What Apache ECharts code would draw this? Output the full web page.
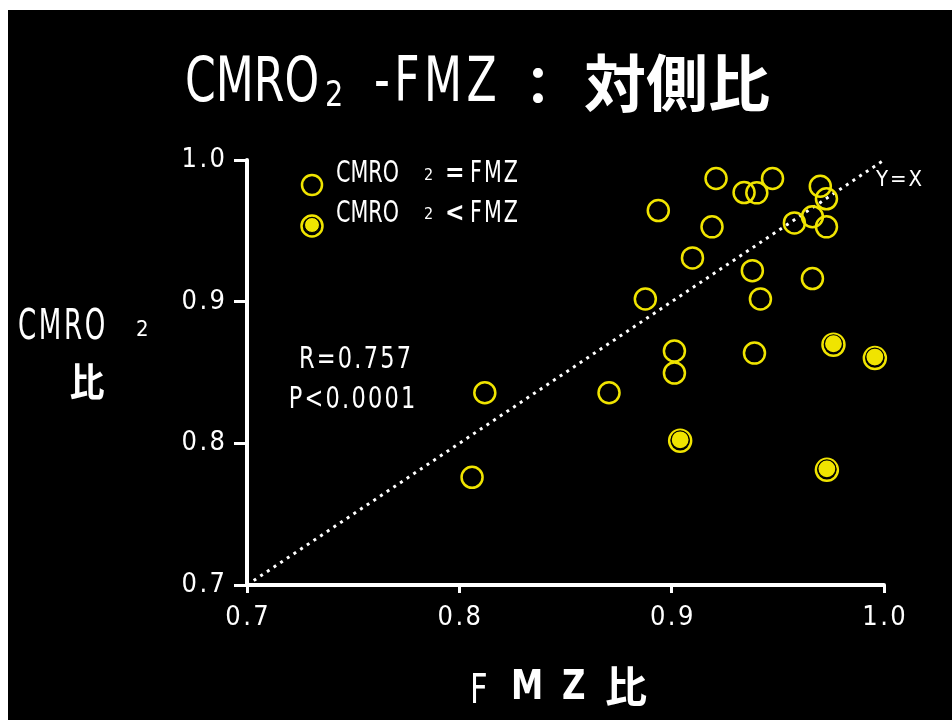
<!DOCTYPE html>
<html><head><meta charset="utf-8">
<script src="https://cdn.jsdelivr.net/npm/echarts@6/dist/echarts.min.js"></script>
<style>
html,body{margin:0;padding:0;background:#fff;width:952px;height:720px;overflow:hidden}
#c{position:absolute;left:8px;top:10px;width:944px;height:710px;background:#000}
</style>
</head><body><div id="c"></div>
<script>
// ---- data ----
const xTicks = [0.7, 0.8, 0.9, 1.0];
const yTicks = [0.7, 0.8, 0.9, 1.0];
// CMRO2 = FMZ (open circles)
const eqFMZ  = [0.806, 0.812, 0.8705, 0.8876, 0.8937, 0.9098, 0.9013, 0.9013, 0.919, 0.9209, 0.9341, 0.9401, 0.9475, 0.938, 0.9418, 0.939, 0.9578, 0.9663, 0.970, 0.9729, 0.9729, 0.9663];
const eqCMRO = [0.776, 0.8357, 0.8357, 0.9019, 0.9643, 0.9309, 0.8652, 0.8496, 0.9528, 0.9869, 0.977, 0.9768, 0.9869, 0.9219, 0.9019, 0.8637, 0.9556, 0.9599, 0.9815, 0.9726, 0.9528, 0.9163];
// CMRO2 < FMZ (filled circles)
const ltFMZ  = [0.904, 0.9762, 0.9957, 0.9731];
const ltCMRO = [0.8018, 0.8696, 0.8602, 0.7813];
// identity line
const idLine = [0.7, 1.0];

const Y = '#f0e400';
const NARROW = "'Liberation Sans Narrow','DejaVu Sans Condensed',sans-serif";
const CJK = "'Noto Sans CJK JP','Noto Sans CJK SC',sans-serif";
const sp = s => s.split('').join('\u200A');
const OX = 8, OY = 10;

function T(text, x, y, size, o) {
  o = o || {};
  return {
    type: 'text', x: x - OX, y: y - OY, scaleY: o.sy || 1, silent: true,
    style: {
      text: text, fill: '#fff', fontSize: size,
      fontFamily: o.ff || NARROW, fontWeight: o.fw || 'normal',
      align: o.align || 'left', verticalAlign: 'middle'
    }
  };
}
function C(x, y, r, fill, stroke, lw) {
  return { type: 'circle', x: x - OX, y: y - OY, silent: true,
    shape: { cx: 0, cy: 0, r: r },
    style: { fill: fill, stroke: stroke, lineWidth: lw } };
}

const chart = echarts.init(document.getElementById('c'), null, { renderer: 'canvas' });
const axisCommon = (tickLen, margin) => ({
  type: 'value', min: 0.7, max: 1.0, interval: 0.1,
  axisLine: { show: true, lineStyle: { color: '#fff', width: 4 } },
  axisTick: { show: true, length: tickLen, lineStyle: { color: '#fff', width: 3 } },
  axisLabel: { color: '#fff', fontSize: 27, fontFamily: NARROW, margin: margin,
    formatter: v => sp(v.toFixed(1)) },
  splitLine: { show: false }
});

chart.setOption({
  backgroundColor: '#000',
  animation: false,
  grid: { left: 239, right: 68, top: 150, bottom: 135 },
  xAxis: axisCommon(8, 19),
  yAxis: axisCommon(13, 22),
  series: [
    {
      type: 'line', name: 'Y=X',
      data: idLine.map(v => [v, v]),
      symbol: 'none', z: 1,
      lineStyle: { color: '#fff', width: 3, type: [3, 5] },
      endLabel: { show: true, formatter: sp('Y=X'), color: '#fff', fontSize: 22,
        fontFamily: NARROW, distance: 0, offset: [-8, 20] }
    },
    {
      type: 'scatter', name: 'CMRO2 = FMZ', z: 3,
      data: eqFMZ.map((v, i) => [v, eqCMRO[i]]),
      symbol: 'circle', symbolSize: 21,
      itemStyle: { color: 'rgba(0,0,0,0)', borderColor: Y, borderWidth: 2.5, opacity: 1 }
    },
    {
      type: 'scatter', name: 'ring', z: 3,
      data: ltFMZ.map((v, i) => [v, ltCMRO[i]]),
      symbol: 'circle', symbolSize: 22,
      itemStyle: { color: 'rgba(0,0,0,0)', borderColor: Y, borderWidth: 2.5, opacity: 1 }
    },
    {
      type: 'scatter', name: 'CMRO2 < FMZ', z: 4,
      data: ltFMZ.map((v, i) => [v, ltCMRO[i]]),
      symbol: 'circle', symbolSize: 18, symbolOffset: [0, -1],
      itemStyle: { color: Y, borderColor: '#000', borderWidth: 1.2, opacity: 1 }
    }
  ],
  graphic: [
    // title
    T('CMRO', 185, 85, 49, { sy: 1.28 }),
    T('2', 325, 97, 32, { sy: 1.1 }),
    T(sp('-FMZ'), 374, 85, 49, { sy: 1.28 }),
    T('：', 538, 85, 52, { ff: CJK, fw: 'bold', align: 'center' }),
    T('対側比', 584, 83, 62, { ff: CJK, fw: 'bold' }),
    // legend
    C(312, 185, 10, 'rgba(0,0,0,0)', Y, 2.5),
    C(312, 226, 10.5, 'rgba(0,0,0,0)', Y, 2.5),
    C(312, 225, 7.5, Y, '#000', 1),
    T('CMRO', 336, 174, 23, { sy: 1.3 }),
    T('2', 424, 176, 16),
    T('=', 445, 174, 26, { fw: 'bold' }),
    T(sp('FMZ'), 470, 174, 23, { sy: 1.3 }),
    T('CMRO', 336, 214, 23, { sy: 1.3 }),
    T('2', 424, 215, 16),
    T('<', 445, 214, 26, { fw: 'bold' }),
    T(sp('FMZ'), 470, 214, 23, { sy: 1.3 }),
    // stats
    T(sp('R=0.757'), 355, 360, 25, { align: 'center', sy: 1.22 }),
    T(sp('P<0.0001'), 352, 400, 25, { align: 'center', sy: 1.22 }),
    // y axis name
    T(sp('CMRO'), 18, 328, 29, { sy: 1.45 }),
    T('2', 136, 330, 22),
    T('比', 87, 381, 35, { ff: CJK, fw: 'bold', align: 'center', sy: 1.1 }),
    // x axis name
    T('F', 470, 692, 34, { sy: 1.2 }),
    T('M', 511, 688, 36, { fw: 'bold', sy: 1.15 }),
    T('Z', 562, 688, 36, { fw: 'bold', sy: 1.15 }),
    T('比', 626, 686, 42, { ff: CJK, fw: 'bold', align: 'center' })
  ]
});
</script>
</body></html>
